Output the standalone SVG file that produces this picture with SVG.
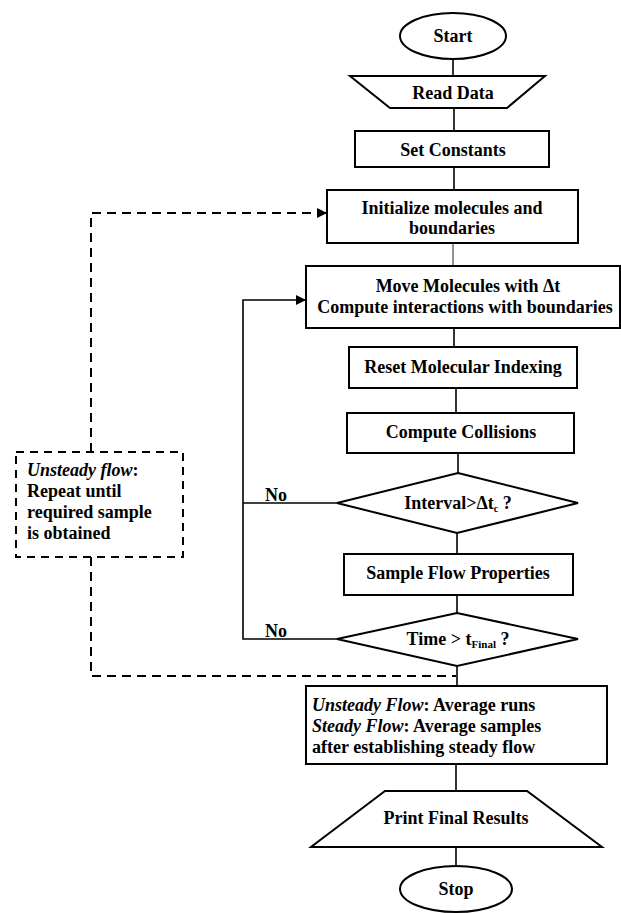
<svg xmlns="http://www.w3.org/2000/svg" width="621" height="913" viewBox="0 0 621 913">
<style>
.s{fill:#fff;stroke:#000;stroke-width:2}
.t{font-family:"Liberation Serif","DejaVu Serif",serif;font-weight:bold;font-size:18px;fill:#000}
.c{text-anchor:middle}
.ln{fill:none;stroke:#000;stroke-width:1.6}
.dash{fill:none;stroke:#000;stroke-width:2;stroke-dasharray:9,6}
</style>
<defs>
<marker id="ah" markerWidth="10" markerHeight="10" refX="9" refY="5" orient="auto" markerUnits="userSpaceOnUse">
<path d="M0,0 L10,5 L0,10 z" fill="#000"/>
</marker>
</defs>
<rect width="621" height="913" fill="#fff"/>
<g id="connectors">
<line class="ln" x1="453" y1="59" x2="453" y2="76"/>
<line class="ln" x1="454" y1="108" x2="454" y2="131"/>
<line class="ln" x1="454" y1="167" x2="454" y2="190"/>
<line x1="453" y1="243" x2="453" y2="266" stroke="#777" stroke-width="1.6"/>
<line class="ln" x1="454" y1="328" x2="454" y2="347"/>
<line class="ln" x1="456" y1="388" x2="456" y2="413"/>
<line class="ln" x1="458" y1="453" x2="458" y2="473"/>
<line class="ln" x1="457" y1="533" x2="457" y2="554"/>
<line class="ln" x1="457" y1="595" x2="457" y2="613"/>
<line class="ln" x1="457" y1="666" x2="457" y2="686"/>
<line class="ln" x1="456" y1="764" x2="456" y2="791"/>
<line class="ln" x1="456" y1="847" x2="456" y2="866"/>
<polyline class="ln" points="337,503 243,503"/>
<polyline class="ln" points="337,639 243,639 243,300 305,300" marker-end="url(#ah)"/>
<polyline class="dash" points="91,452 91,213 326,213" marker-end="url(#ah)"/>
<polyline class="dash" points="91,557 91,676 456,676"/>
<text class="t" x="265" y="501">No</text>
<text class="t" x="265" y="637">No</text>
</g>
<g id="start"><ellipse class="s" cx="453" cy="36" rx="53" ry="23"/><text class="t c" x="453" y="42">Start</text></g>
<g id="read"><polygon class="s" points="350,76 545,76 507,108 390,108"/><text class="t c" x="453" y="99">Read Data</text></g>
<g id="constants"><rect class="s" x="355" y="131" width="194" height="36"/><text class="t c" x="453" y="156">Set Constants</text></g>
<g id="init"><rect class="s" x="327" y="190" width="251" height="53"/><text class="t c" x="452" y="214">Initialize molecules and</text><text class="t c" x="452" y="234">boundaries</text></g>
<g id="move"><rect class="s" x="306" y="266" width="314" height="62"/><text class="t c" x="468" y="292">Move Molecules with Δt</text><text class="t c" x="465" y="313">Compute interactions with boundaries</text></g>
<g id="reset"><rect class="s" x="349" y="347" width="228" height="41"/><text class="t c" x="463" y="373">Reset Molecular Indexing</text></g>
<g id="collisions"><rect class="s" x="347" y="413" width="227" height="40"/><text class="t c" x="461" y="438">Compute Collisions</text></g>
<g id="interval"><polygon class="s" points="458,473 578,503 457,533 337,503"/><text class="t c" x="458" y="509">Interval&gt;Δt<tspan font-size="10" dy="3">c</tspan><tspan dy="-3"> ?</tspan></text></g>
<g id="sample"><rect class="s" x="344" y="554" width="229" height="41"/><text class="t c" x="458" y="579">Sample Flow Properties</text></g>
<g id="time"><polygon class="s" points="457,613 578,639 457,666 337,639"/><text class="t c" x="458" y="645">Time &gt; t<tspan font-size="11" dy="3">Final</tspan><tspan dy="-3"> ?</tspan></text></g>
<g id="average"><rect class="s" x="306" y="686" width="301" height="78"/>
<text class="t" x="312" y="711"><tspan font-style="italic">Unsteady Flow</tspan>: Average runs</text>
<text class="t" x="312" y="732"><tspan font-style="italic">Steady Flow</tspan>: Average samples</text>
<text class="t" x="312" y="753">after establishing steady flow</text></g>
<g id="print"><polygon class="s" points="385,791 527,791 602,847 311,847"/><text class="t c" x="456" y="824">Print Final Results</text></g>
<g id="stop"><ellipse class="s" cx="456" cy="889" rx="56" ry="23"/><text class="t c" x="456" y="895">Stop</text></g>
<g id="note"><rect x="16" y="452" width="167" height="105" fill="#fff" stroke="#000" stroke-width="2" stroke-dasharray="8,6"/>
<text class="t" x="27" y="476"><tspan font-style="italic">Unsteady flow</tspan>:</text>
<text class="t" x="27" y="497">Repeat until</text>
<text class="t" x="27" y="518">required sample</text>
<text class="t" x="27" y="539">is obtained</text></g>
</svg>
